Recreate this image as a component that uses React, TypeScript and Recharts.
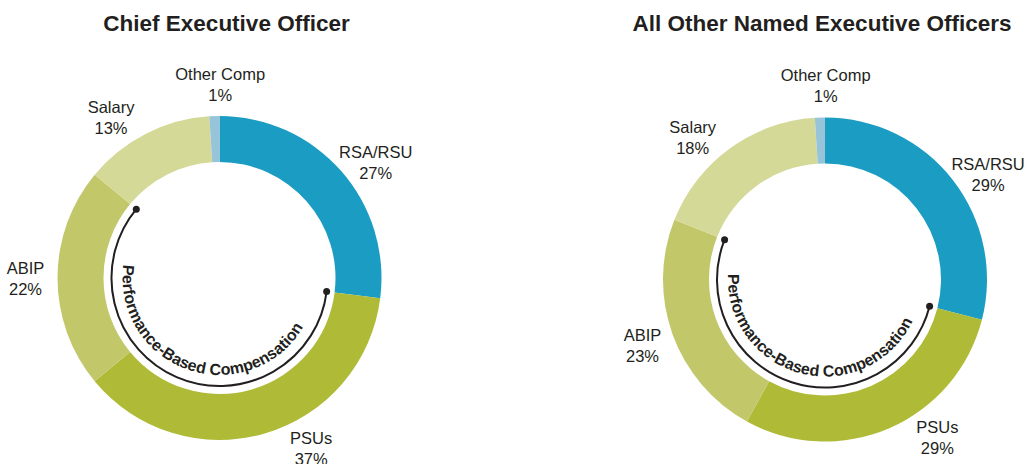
import React from "react";
import { PieChart, Pie, Cell } from "recharts";

const CATEGORIES = ["RSA/RSU", "PSUs", "ABIP", "Salary", "Other Comp"];
const CEO_SHARES = [27, 37, 22, 13, 1];
const NEO_SHARES = [29, 29, 23, 18, 1];
const PERFORMANCE_BASED = ["PSUs", "ABIP"];
const TITLES = ["Chief Executive Officer", "All Other Named Executive Officers"];
const ARC_CAPTION = "Performance-Based Compensation";

const COLORS: Record<string, string> = {
  "RSA/RSU": "#1B9CC2", // teal blue
  PSUs: "#AFBA37", // olive
  ABIP: "#C2C86A", // light olive
  Salary: "#D5D997", // pale olive
  "Other Comp": "#98C4DA", // light blue
};

// small clockwise nudges (degrees) so labels sit where the original puts them
const LABEL_NUDGE: Record<string, number> = {
  "RSA/RSU": 5,
  PSUs: -12,
  ABIP: 0,
  Salary: -7,
  "Other Comp": 2,
};

const INK = "#231F20";
const FONT = '"Liberation Sans", Arial, Helvetica, sans-serif';
const RAD = Math.PI / 180;
const HEIGHT = 464;
const NO_MARGIN = { top: 0, right: 0, bottom: 0, left: 0 };

function toSlices(shares: number[]) {
  return CATEGORIES.map((name, i) => ({ name, value: shares[i] }));
}

// collapse slices into before / performance-based / after, for the bracket arc
function toGroups(shares: number[]) {
  const groups = [
    { name: "pre", value: 0 },
    { name: "perf", value: 0 },
    { name: "post", value: 0 },
  ];
  let seen = false;
  CATEGORIES.forEach((name, i) => {
    if (PERFORMANCE_BASED.includes(name)) {
      seen = true;
      groups[1].value += shares[i];
    } else {
      groups[seen ? 2 : 0].value += shares[i];
    }
  });
  return groups;
}

function renderSliceLabel(props: any) {
  const { cx, cy, startAngle, endAngle, outerRadius, payload } = props;
  const name = payload.name;
  const mid = (startAngle + endAngle) / 2;
  const a = (mid - (LABEL_NUDGE[name] ?? 0)) * RAD;
  const r = outerRadius + 32;
  const x = cx + r * Math.cos(a);
  const y = cy - r * Math.sin(a);
  const style = { fontFamily: FONT, fontSize: 16.5, fill: INK };
  return (
    <g key={name}>
      <text x={x} y={y - 10.5} textAnchor="middle" dominantBaseline="central" style={style}>
        {name}
      </text>
      <text x={x} y={y + 10.5} textAnchor="middle" dominantBaseline="central" style={style}>
        {`${payload.value}%`}
      </text>
    </g>
  );
}

function renderPerfArc(props: any) {
  const { cx, cy, startAngle, endAngle, outerRadius, payload } = props;
  if (payload?.name !== "perf") return null;
  const pt = (r: number, deg: number) => [
    cx + r * Math.cos(deg * RAD),
    cy - r * Math.sin(deg * RAD),
  ];
  const large = Math.abs(startAngle - endAngle) > 180 ? 1 : 0;
  const [x1, y1] = pt(outerRadius, startAngle);
  const [x2, y2] = pt(outerRadius, endAngle);
  const tr = outerRadius - 11;
  const [t1x, t1y] = pt(tr, endAngle);
  const [t2x, t2y] = pt(tr, startAngle);
  const id = `perf-path-${Math.round(cx)}`;
  return (
    <g key="perf">
      <path
        d={`M${x1},${y1} A${outerRadius},${outerRadius} 0 ${large} 1 ${x2},${y2}`}
        fill="none"
        stroke={INK}
        strokeWidth={2}
      />
      <circle cx={x1} cy={y1} r={3.5} fill={INK} />
      <circle cx={x2} cy={y2} r={3.5} fill={INK} />
      <path id={id} d={`M${t1x},${t1y} A${tr},${tr} 0 ${large} 0 ${t2x},${t2y}`} fill="none" />
      <text style={{ fontFamily: FONT, fontSize: 16, fontWeight: "bold", fill: INK }}>
        <textPath href={`#${id}`} startOffset="52%" textAnchor="middle">
          {ARC_CAPTION}
        </textPath>
      </text>
    </g>
  );
}

interface PanelProps {
  title: string;
  shares: number[];
  width: number;
  cx: number;
  cy: number;
  titleX: number;
}

function DonutPanel({ title, shares, width, cx, cy, titleX }: PanelProps) {
  const slices = toSlices(shares);
  const groups = toGroups(shares);
  return (
    <div style={{ position: "relative", width, height: HEIGHT }}>
      <div
        style={{
          position: "absolute",
          left: titleX - 250,
          width: 500,
          top: 11,
          textAlign: "center",
          fontFamily: FONT,
          fontWeight: "bold",
          fontSize: 22.5,
          color: INK,
          whiteSpace: "nowrap",
        }}
      >
        {title}
      </div>
      <PieChart width={width} height={HEIGHT} margin={NO_MARGIN}>
        <Pie
          data={slices}
          dataKey="value"
          nameKey="name"
          cx={cx}
          cy={cy}
          innerRadius={116}
          outerRadius={162}
          startAngle={90}
          endAngle={-270}
          stroke="none"
          label={renderSliceLabel}
          labelLine={false}
          isAnimationActive={false}
        >
          {slices.map((s) => (
            <Cell key={s.name} fill={COLORS[s.name]} />
          ))}
        </Pie>
        <Pie
          data={groups}
          dataKey="value"
          nameKey="name"
          cx={cx}
          cy={cy}
          innerRadius={0}
          outerRadius={108}
          startAngle={90}
          endAngle={-270}
          fill="none"
          stroke="none"
          label={renderPerfArc}
          labelLine={false}
          isAnimationActive={false}
        />
      </PieChart>
    </div>
  );
}

export default function App() {
  return (
    <div style={{ position: "absolute", left: 0, top: 0, width: 1033, height: HEIGHT, display: "flex", background: "#fff" }}>
      <DonutPanel title={TITLES[0]} shares={CEO_SHARES} width={516} cx={219.5} cy={278} titleX={226.5} />
      <DonutPanel title={TITLES[1]} shares={NEO_SHARES} width={517} cx={309} cy={279.5} titleX={306} />
    </div>
  );
}
